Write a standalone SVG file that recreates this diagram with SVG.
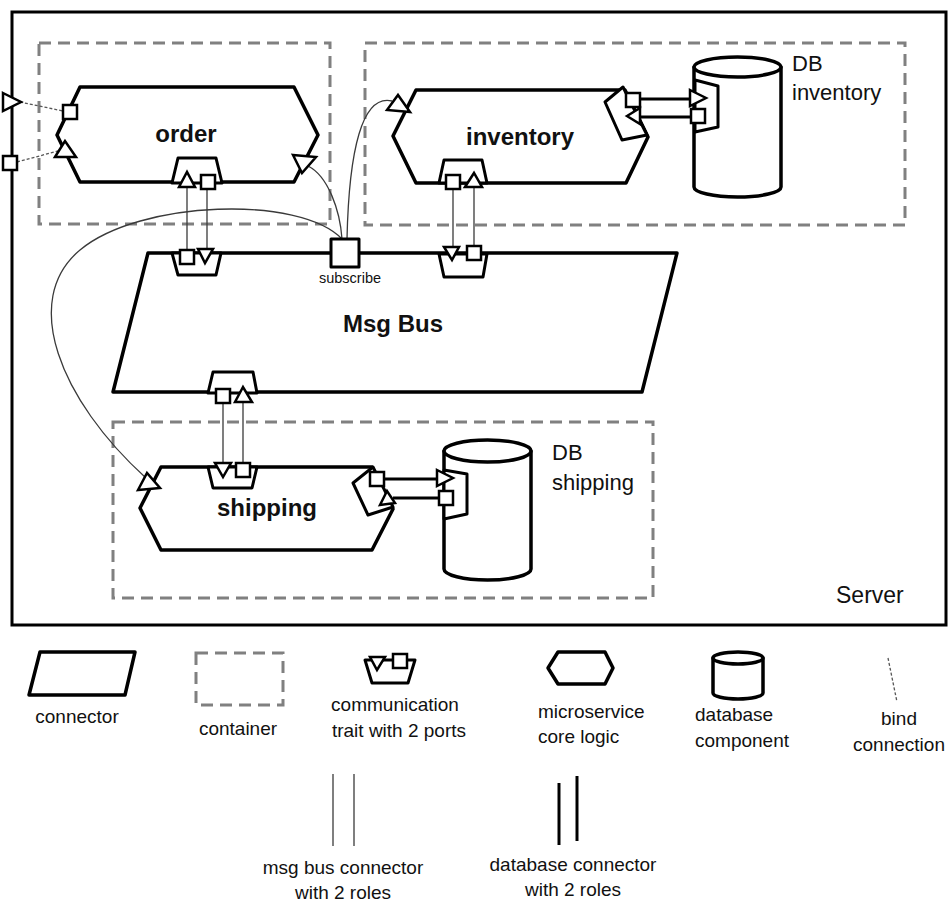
<svg xmlns="http://www.w3.org/2000/svg" width="950" height="902" viewBox="0 0 950 902">
<style>
.bg{fill:#fff}
.srv{fill:none;stroke:#000;stroke-width:3}
.cont{fill:none;stroke:#808080;stroke-width:3;stroke-dasharray:12 7}
.shape{fill:#fff;stroke:#000;stroke-width:3.5;stroke-linejoin:round}
.trait{fill:#fff;stroke:#000;stroke-width:3;stroke-linejoin:round}
.port{fill:#fff;stroke:#000;stroke-width:2.5}
.link{fill:none;stroke:#3a3a3a;stroke-width:1.3}
.dblink{fill:none;stroke:#000;stroke-width:3}
.bind{fill:none;stroke:#555;stroke-width:1.3;stroke-dasharray:3 2}
.t{font-family:"Liberation Sans",Arial,sans-serif;fill:#111}
.b{font-weight:bold;font-size:24px;text-anchor:middle}
.lg{font-size:19px}
</style>
<rect class="bg" x="0" y="0" width="950" height="902"/>

<g id="server">
<rect class="srv" x="12" y="12" width="934" height="613"/>
<text class="t" x="836" y="603" font-size="23">Server</text>
</g>

<g id="containers">
<rect class="cont" x="39" y="43" width="291" height="181"/>
<rect class="cont" x="365" y="43" width="540" height="182"/>
<rect class="cont" x="113" y="422" width="540" height="176"/>
</g>

<g id="connectors">
<line class="link" x1="187" y1="172" x2="187" y2="250"/>
<line class="link" x1="207" y1="189" x2="207" y2="262"/>
<line class="link" x1="453" y1="189" x2="453" y2="259"/>
<line class="link" x1="474" y1="187" x2="474" y2="246"/>
<line class="link" x1="223" y1="403" x2="223" y2="476"/>
<line class="link" x1="243" y1="387" x2="243" y2="463"/>
<path class="link" d="M308,166 C328,176 340,210 342,239"/>
<path class="link" d="M392,101 C362,94 349,150 347,239"/>
<path class="link" d="M146,478 C60,400 20,300 80,250 C140,200 300,195 342,239"/>
<line class="dblink" x1="640" y1="99" x2="691" y2="99"/>
<line class="dblink" x1="640" y1="117" x2="691" y2="117"/>
<line class="dblink" x1="385" y1="479" x2="438" y2="479"/>
<line class="dblink" x1="393" y1="498" x2="439" y2="498"/>
<line class="bind" x1="20" y1="102" x2="63" y2="111"/>
<line class="bind" x1="17" y1="162" x2="58" y2="151"/>
</g>

<g id="server-ports">
<polygon class="port" points="3,93 21,102 3,111"/>
<rect class="port" x="3" y="156" width="14" height="14"/>
</g>

<g id="order">
<polygon class="shape" points="80,87 294,87 318,135 294,182 80,182 57,135"/>
<polygon class="trait" points="172,183 178,158 216,158 222,183"/>
<rect class="port" x="63" y="105" width="14" height="14"/>
<polygon class="port" points="55,157 65,141 76,157"/>
<polygon class="port" points="293,155 316,157 302,173"/>
<polygon class="port" points="179,187 187,172 195,187"/>
<rect class="port" x="201" y="175" width="14" height="14"/>
<text class="t b" x="186" y="142">order</text>
</g>

<g id="inventory">
<polygon class="shape" points="416,90 625,90 648,137 626,183 416,183 393,136"/>
<polygon class="trait" points="605,102 623,87 647,135 622,140"/>
<rect class="port" x="626" y="93" width="14" height="14"/>
<polygon class="port" points="627,116 640,108 640,124"/>
<polygon class="port" points="387,110 398,95 410,112"/>
<polygon class="trait" points="439,183 444,160 482,160 487,183"/>
<rect class="port" x="446" y="175" width="14" height="14"/>
<polygon class="port" points="465,187 474,173 482,187"/>
<text class="t b" x="520" y="145">inventory</text>
</g>

<g id="db-inventory">
<path class="shape" d="M694,67 L694,187 A43.5,10 0 0 0 781,187 L781,67 Z"/>
<ellipse class="shape" cx="737.5" cy="67" rx="43.5" ry="10"/>
<polygon class="trait" points="695,80 718,86 718,127 695,132"/>
<polygon class="port" points="690,90 706,98 690,106"/>
<rect class="port" x="691" y="109" width="14" height="14"/>
<text class="t" x="792" y="71" font-size="22">DB</text>
<text class="t" x="792" y="100" font-size="22">inventory</text>
</g>

<g id="msgbus">
<polygon class="shape" points="148,253 677,253 642,392 113,392"/>
<polygon class="trait" points="172,253 178,275 216,275 221,253"/>
<rect class="port" x="180" y="250" width="14" height="14"/>
<polygon class="port" points="198,249 213,249 205,263"/>
<polygon class="trait" points="439,254 444,277 483,277 487,254"/>
<polygon class="port" points="444,247 459,247 452,260"/>
<rect class="port" x="467" y="246" width="14" height="14"/>
<polygon class="trait" points="208,393 213,372 253,372 257,393"/>
<rect class="port" x="216" y="389" width="14" height="14"/>
<polygon class="port" points="235,402 243,387 252,402"/>
<rect class="shape" x="331" y="239" width="28" height="28" style="stroke-width:3"/>
<text class="t" x="350" y="283" font-size="14.5" text-anchor="middle">subscribe</text>
<text class="t b" x="393" y="332">Msg Bus</text>
</g>

<g id="shipping">
<polygon class="shape" points="161,467 372,467 393,509 372,550 161,550 140,508"/>
<polygon class="trait" points="208,467 213,488 252,488 257,467"/>
<polygon class="port" points="215,463 231,463 223,477"/>
<rect class="port" x="236" y="463" width="14" height="14"/>
<polygon class="port" points="138,490 147,473 160,488"/>
<polygon class="trait" points="353,483 373,467 393,507 368,515"/>
<rect class="port" x="370" y="472" width="14" height="14"/>
<polygon class="port" points="380,505 387,491 395,503"/>
<text class="t b" x="267" y="516">shipping</text>
</g>

<g id="db-shipping">
<path class="shape" d="M444,451 L444,569 A43.5,11 0 0 0 531,569 L531,451 Z"/>
<ellipse class="shape" cx="487.5" cy="451" rx="43.5" ry="11"/>
<polygon class="trait" points="444,470 467,474 467,514 444,519"/>
<polygon class="port" points="437,470 453,478 437,486"/>
<rect class="port" x="439" y="491" width="14" height="14"/>
<text class="t" x="552" y="460" font-size="22">DB</text>
<text class="t" x="552" y="490" font-size="22">shipping</text>
</g>

<g id="legend-connector">
<polygon class="shape" points="40,652 135,652 125,695 29,695"/>
<text class="t lg" x="77" y="723" text-anchor="middle">connector</text>
</g>
<g id="legend-container">
<rect class="cont" x="196" y="653" width="87" height="52"/>
<text class="t lg" x="238" y="735" text-anchor="middle">container</text>
</g>
<g id="legend-trait">
<polygon class="trait" points="365,660 372,683 408,683 415,660"/>
<polygon class="port" points="370,657 385,657 377,670"/>
<rect class="port" x="393" y="654" width="14" height="14"/>
<text class="t lg" x="395" y="711" text-anchor="middle">communication</text>
<text class="t lg" x="399" y="737" text-anchor="middle">trait with 2 ports</text>
</g>
<g id="legend-microservice">
<polygon class="shape" points="548,668 558,652 605,652 613,668 605,684 558,684"/>
<text class="t lg" x="538" y="718">microservice</text>
<text class="t lg" x="538" y="743">core logic</text>
</g>
<g id="legend-database">
<path class="shape" d="M713,658 L713,693 A25,6 0 0 0 763,693 L763,658 Z"/>
<ellipse class="shape" cx="738" cy="658" rx="25" ry="6"/>
<text class="t lg" x="695" y="721">database</text>
<text class="t lg" x="695" y="747">component</text>
</g>
<g id="legend-bind">
<line class="bind" x1="888" y1="658" x2="897" y2="702"/>
<text class="t lg" x="899" y="725" text-anchor="middle">bind</text>
<text class="t lg" x="899" y="751" text-anchor="middle">connection</text>
</g>
<g id="legend-msgbus-connector">
<line class="link" x1="333" y1="774" x2="333" y2="846" style="stroke:#555;stroke-width:1.5"/>
<line class="link" x1="354" y1="774" x2="354" y2="846" style="stroke:#555;stroke-width:1.5"/>
<text class="t lg" x="343" y="874" text-anchor="middle">msg bus connector</text>
<text class="t lg" x="343" y="899" text-anchor="middle">with 2 roles</text>
</g>
<g id="legend-db-connector">
<line class="dblink" x1="559" y1="783" x2="559" y2="845"/>
<line class="dblink" x1="577" y1="776" x2="577" y2="841"/>
<text class="t lg" x="573" y="871" text-anchor="middle">database connector</text>
<text class="t lg" x="573" y="896" text-anchor="middle">with 2 roles</text>
</g>
</svg>
